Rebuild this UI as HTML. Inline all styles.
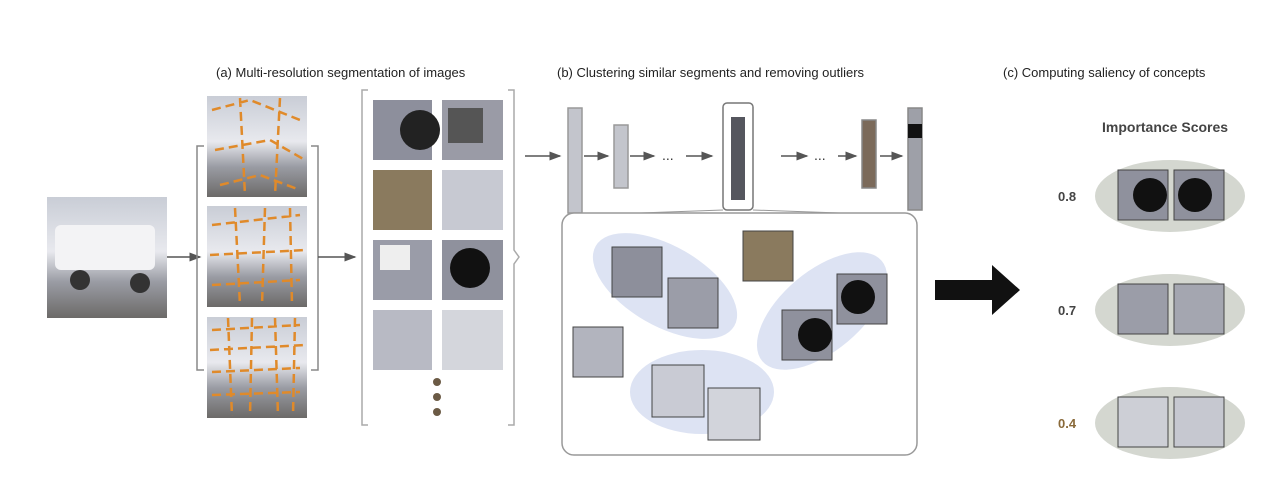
<!DOCTYPE html>
<html><head><meta charset="utf-8"><style>
body{margin:0;background:#fff;width:1282px;height:495px;overflow:hidden;font-family:"Liberation Sans",sans-serif}
svg{position:absolute;left:0;top:0}
</style></head><body>
<svg width="1282" height="495" viewBox="0 0 1282 495">
<defs>
<marker id="ah" markerWidth="8" markerHeight="8" refX="7" refY="4" orient="auto"><path d="M0,1 L8,4 L0,7z" fill="#555"/></marker>
<linearGradient id="van" x1="0" y1="0" x2="0" y2="1"><stop offset="0" stop-color="#c9cdd6"/><stop offset="0.45" stop-color="#e8e9ee"/><stop offset="0.7" stop-color="#9a9ca4"/><stop offset="1" stop-color="#6c6a68"/></linearGradient>
</defs>
<g font-size="13" fill="#222">
<text x="216" y="77">(a) Multi-resolution segmentation of images</text>
<text x="557" y="77">(b) Clustering similar segments and removing outliers</text>
<text x="1003" y="77">(c) Computing saliency of concepts</text>
</g>
<g>
<rect x="47" y="197" width="120" height="121" fill="url(#van)"/>
<rect x="55" y="225" width="100" height="45" rx="6" fill="#f3f3f5"/>
<circle cx="80" cy="280" r="10" fill="#333"/><circle cx="140" cy="283" r="10" fill="#333"/>
</g>
<line x1="167" y1="257" x2="200" y2="257" stroke="#555" stroke-width="1.5" marker-end="url(#ah)"/>
<path d="M204,146 H197 V370 H204" fill="none" stroke="#888" stroke-width="1.5"/>
<path d="M311,146 H318 V370 H311" fill="none" stroke="#888" stroke-width="1.5"/>
<g>
<rect x="207" y="96" width="100" height="101" fill="url(#van)"/>
<rect x="207" y="206" width="100" height="101" fill="url(#van)"/>
<rect x="207" y="317" width="100" height="101" fill="url(#van)"/>
<g fill="none" stroke="#e08a2a" stroke-width="2.5" stroke-dasharray="9 5">
<path d="M212,110 L250,100 L300,120 M215,150 L270,140 L305,160 M220,185 L260,175 L300,190 M240,98 L245,195 M280,98 L275,195"/>
<path d="M212,225 L300,215 M210,255 L305,250 M212,285 L300,280 M235,208 L240,305 M265,208 L262,305 M290,208 L292,305"/>
<path d="M212,330 L300,325 M210,350 L305,345 M212,372 L300,368 M212,395 L300,392 M228,318 L232,416 M252,318 L250,416 M275,318 L278,416 M295,318 L293,416"/>
</g></g>
<line x1="318" y1="257" x2="355" y2="257" stroke="#555" stroke-width="1.5" marker-end="url(#ah)"/>
<path d="M368,90 H362 V425 H368" fill="none" stroke="#aaa" stroke-width="1.5"/>
<path d="M508,90 H514 V250 L519,257 L514,264 V425 H508" fill="none" stroke="#aaa" stroke-width="1.5"/>
<g>
<rect x="373" y="100" width="59" height="60" fill="#8d8f9c"/><circle cx="420" cy="130" r="20" fill="#222"/>
<rect x="442" y="100" width="61" height="60" fill="#9a9ba6"/><rect x="448" y="108" width="35" height="35" fill="#555"/>
<rect x="373" y="170" width="59" height="60" fill="#8a7a5e"/>
<rect x="442" y="170" width="61" height="60" fill="#c7c9d2"/>
<rect x="373" y="240" width="59" height="60" fill="#9a9ca8"/><rect x="380" y="245" width="30" height="25" fill="#eee"/>
<rect x="442" y="240" width="61" height="60" fill="#8f919d"/><circle cx="470" cy="268" r="20" fill="#111"/>
<rect x="373" y="310" width="59" height="60" fill="#b8bac4"/>
<rect x="442" y="310" width="61" height="60" fill="#d4d6dc"/>
<circle cx="437" cy="382" r="4" fill="#6b5a45"/><circle cx="437" cy="397" r="4" fill="#6b5a45"/><circle cx="437" cy="412" r="4" fill="#6b5a45"/>
</g>
<g stroke="#555" stroke-width="1.5">
<line x1="525" y1="156" x2="560" y2="156" marker-end="url(#ah)"/>
<rect x="568" y="108" width="14" height="105" fill="#c3c5cc" stroke="#999"/>
<line x1="584" y1="156" x2="608" y2="156" marker-end="url(#ah)"/>
<rect x="614" y="125" width="14" height="63" fill="#c3c5cc" stroke="#999"/>
<line x1="630" y1="156" x2="654" y2="156" marker-end="url(#ah)"/>
<line x1="686" y1="156" x2="712" y2="156" marker-end="url(#ah)"/>
<rect x="723" y="103" width="30" height="107" rx="4" fill="#fff" stroke="#777"/>
<rect x="731" y="117" width="14" height="83" fill="#55565e" stroke="none"/>
<line x1="781" y1="156" x2="807" y2="156" marker-end="url(#ah)"/>
<line x1="838" y1="156" x2="856" y2="156" marker-end="url(#ah)"/>
<rect x="862" y="120" width="14" height="68" fill="#7b6a5a" stroke="#888"/>
<line x1="880" y1="156" x2="902" y2="156" marker-end="url(#ah)"/>
<rect x="908" y="108" width="14" height="102" fill="#9ea0a8" stroke="#888"/>
<rect x="908" y="124" width="14" height="14" fill="#111" stroke="none"/>
</g>
<text x="662" y="160" font-size="14" fill="#333">...</text>
<text x="814" y="160" font-size="14" fill="#333">...</text>
<g>
<rect x="562" y="213" width="355" height="242" rx="12" fill="#fff" stroke="#999" stroke-width="1.5"/>
<line x1="723" y1="210" x2="640" y2="213" stroke="#999" stroke-width="1"/>
<line x1="753" y1="210" x2="840" y2="213" stroke="#999" stroke-width="1"/>
<ellipse cx="665" cy="286" rx="80" ry="40" transform="rotate(30 665 286)" fill="#dde3f3"/>
<ellipse cx="822" cy="311" rx="78" ry="40" transform="rotate(-40 822 311)" fill="#dde3f3"/>
<ellipse cx="702" cy="392" rx="72" ry="42" fill="#dde3f3"/>
<rect x="612" y="247" width="50" height="50" fill="#8d8f9b" stroke="#444"/>
<rect x="668" y="278" width="50" height="50" fill="#9b9da8" stroke="#444"/>
<rect x="743" y="231" width="50" height="50" fill="#8a7a5e" stroke="#444"/>
<rect x="837" y="274" width="50" height="50" fill="#8f919d" stroke="#444"/><circle cx="858" cy="297" r="17" fill="#111"/>
<rect x="782" y="310" width="50" height="50" fill="#8f919d" stroke="#444"/><circle cx="815" cy="335" r="17" fill="#111"/>
<rect x="573" y="327" width="50" height="50" fill="#b2b4be" stroke="#444"/>
<rect x="652" y="365" width="52" height="52" fill="#c9cbd4" stroke="#444"/>
<rect x="708" y="388" width="52" height="52" fill="#d2d4db" stroke="#444"/>
</g>
<path d="M935,280 H992 V265 L1020,290 L992,315 V300 H935z" fill="#111"/>
<text x="1102" y="132" font-size="14" font-weight="bold" fill="#444">Importance Scores</text>
<g>
<ellipse cx="1170" cy="196" rx="75" ry="36" fill="#d4d7d0"/>
<rect x="1118" y="170" width="50" height="50" fill="#8f919d" stroke="#444"/><circle cx="1150" cy="195" r="17" fill="#111"/>
<rect x="1174" y="170" width="50" height="50" fill="#8f919d" stroke="#444"/><circle cx="1195" cy="195" r="17" fill="#111"/>
<ellipse cx="1170" cy="310" rx="75" ry="36" fill="#d4d7d0"/>
<rect x="1118" y="284" width="50" height="50" fill="#9b9da8" stroke="#444"/>
<rect x="1174" y="284" width="50" height="50" fill="#a4a6b0" stroke="#444"/>
<ellipse cx="1170" cy="423" rx="75" ry="36" fill="#d4d7d0"/>
<rect x="1118" y="397" width="50" height="50" fill="#cdcfd6" stroke="#444"/>
<rect x="1174" y="397" width="50" height="50" fill="#c6c8d0" stroke="#444"/>
</g>
<g font-size="13" font-weight="bold">
<text x="1058" y="201" fill="#444">0.8</text>
<text x="1058" y="315" fill="#444">0.7</text>
<text x="1058" y="428" fill="#8a6a3a">0.4</text>
</g>
</svg>
</body></html>
